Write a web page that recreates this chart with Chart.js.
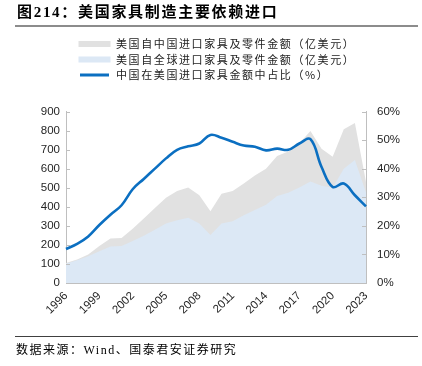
<!DOCTYPE html>
<html><head><meta charset="utf-8">
<script src="https://cdn.jsdelivr.net/npm/chart.js@4.4.1/dist/chart.umd.min.js"></script>
<style>
html,body{margin:0;padding:0;background:#fff;width:422px;height:366px;overflow:hidden;}
#wrap{position:relative;width:422px;height:366px;}
canvas{position:absolute;left:0;top:0;}
#title{position:absolute;left:17px;top:3px;font:bold 15px "Liberation Serif","Noto Sans CJK SC";line-height:18px;letter-spacing:1.7px;color:#000;white-space:nowrap;}
#tline{position:absolute;left:15px;top:25px;width:403px;height:2px;background:#8c8c8c;}
#bline{position:absolute;left:15px;top:336px;width:403px;height:1px;background:#404040;}
#src{position:absolute;left:16px;top:342px;font:12px "Liberation Serif","Noto Sans CJK SC";line-height:16px;letter-spacing:1.5px;color:#000;white-space:nowrap;}
</style></head><body>
<div id="wrap">
<canvas id="c" width="422" height="366"></canvas>
<div id="title">图214：美国家具制造主要依赖进口</div>
<div id="tline"></div>
<div id="bline"></div>
<div id="src">数据来源：Wind、国泰君安证券研究</div>
</div>
<script>
// ---- data ----
const years = ['1996','1997','1998','1999','2000','2001','2002','2003','2004','2005','2006','2007','2008','2009','2010','2011','2012','2013','2014','2015','2016','2017','2018','2019','2020','2021','2022','2023'];
const shownYears = ['1996','1999','2002','2005','2008','2011','2014','2017','2020','2023'];
// grey area (upper band)
const importsFromChina = [105,123,150,194,234,236,285,339,393,447,483,501,461,376,468,483,522,564,600,666,690,734,798,705,663,807,839,530];
// light blue area (lower band)
const importsFromWorld = [101,119,140,167,191,194,221,248,279,312,329,342,312,252,312,324,356,383,410,456,474,501,533,510,500,600,645,475];
// share line (%)
const chinaShare = [11.9,13.7,16.3,20.3,23.9,27.2,32.8,36.4,40.0,43.6,46.6,47.8,48.8,51.8,50.8,49.4,48.1,47.7,46.4,47.0,46.6,48.8,50.3,40.6,33.6,34.8,30.7,26.8];
const leftTicks = [0,100,200,300,400,500,600,700,800,900];
const rightTicks = [0,10,20,30,40,50,60];

const labelsText = ['美国自中国进口家具及零件金额（亿美元）','美国自全球进口家具及零件金额（亿美元）','中国在美国进口家具金额中占比（%）'];
const GREY = '#e1e1e1', LIGHTBLUE = '#dce8f5', BLUE = '#0b6fc1', AXIS = '#bfbfbf', TXT = '#262626';

const tweak = {
  id: 'tweak',
  afterLayout(chart) {
    const lg = chart.legend;
    if (!lg) return;
    const dy = lg.top - 34;
    lg.top -= dy; lg.bottom -= dy;
    lg.left += 74;
    if (!lg._wrapped) {
      const d = lg.draw;
      lg.draw = function () {
        const c = this.ctx; c.save(); c.letterSpacing = '1.6px';
        d.apply(this, arguments); c.restore();
      };
      lg._wrapped = true;
    }
  },
  afterDraw(chart) {
    const ctx = chart.ctx;
    ctx.save();
    ctx.strokeStyle = AXIS; ctx.lineWidth = 1;
    ['y', 'y1'].forEach(id => {
      const s = chart.scales[id];
      s.ticks.forEach((t, i) => {
        const yy = Math.round(s.getPixelForTick(i)) + 0.5;
        ctx.beginPath();
        if (id === 'y') { ctx.moveTo(s.right, yy); ctx.lineTo(s.right + 4, yy); }
        else { ctx.moveTo(s.left, yy); ctx.lineTo(s.left - 4, yy); }
        ctx.stroke();
      });
    });
    ctx.restore();
  }
};

new Chart(document.getElementById('c'), {
  type: 'line',
  data: {
    labels: years,
    datasets: [
      { label: labelsText[0], data: importsFromChina, yAxisID: 'y', fill: 'origin', backgroundColor: GREY, borderWidth: 0, pointRadius: 0, tension: 0, order: 3 },
      { label: labelsText[1], data: importsFromWorld, yAxisID: 'y', fill: 'origin', backgroundColor: LIGHTBLUE, borderWidth: 0, pointRadius: 0, tension: 0, order: 2 },
      { label: labelsText[2], data: chinaShare, yAxisID: 'y1', fill: false, borderColor: BLUE, backgroundColor: BLUE, borderWidth: 2.6, pointRadius: 0, tension: 0.4, order: 1 }
    ]
  },
  options: {
    responsive: false, animation: false, devicePixelRatio: 1,
    layout: { padding: { top: 55, left: 0, right: 0, bottom: 0 } },
    plugins: {
      tooltip: { enabled: false },
      legend: {
        position: 'top', align: 'start',
        labels: {
          boxWidth: 32, boxHeight: 6, padding: 4.5, color: '#222',
          font: { family: '"Noto Sans CJK SC"', size: 11 },
          generateLabels(chart) {
            return chart.data.datasets.map((ds, i) => ({
              text: ds.label,
              fillStyle: i === 2 ? BLUE : ds.backgroundColor,
              strokeStyle: i === 2 ? '#ffffff' : ds.backgroundColor,
              lineWidth: i === 2 ? 3 : 0,
              hidden: false, datasetIndex: i, fontColor: '#222'
            }));
          }
        }
      }
    },
    scales: {
      x: {
        type: 'category',
        grid: { display: false, drawTicks: false },
        border: { display: true, color: AXIS },
        ticks: {
          autoSkip: false, maxRotation: 45, minRotation: 45, padding: 6, color: TXT,
          font: { family: '"Liberation Sans", Arial', size: 11.5 },
          callback: (v, i) => shownYears.includes(years[i]) ? years[i] : ''
        },
        afterFit(s) { s.height = 83; }
      },
      y: {
        position: 'left', min: 0, max: 900,
        grid: { display: false, drawTicks: false },
        border: { display: true, color: AXIS },
        afterBuildTicks(s) { s.ticks = leftTicks.map(v => ({ value: v })); },
        ticks: { padding: 6, color: TXT, font: { family: '"Liberation Sans", Arial', size: 11.5 } },
        afterFit(s) { s.width = 66; }
      },
      y1: {
        position: 'right', min: 0, max: 60,
        grid: { display: false, drawTicks: false },
        border: { display: true, color: AXIS },
        afterBuildTicks(s) { s.ticks = rightTicks.map(v => ({ value: v })); },
        ticks: { padding: 11, color: TXT, font: { family: '"Liberation Sans", Arial', size: 11.5 }, callback: v => v + '%' },
        afterFit(s) { s.width = 56; }
      }
    }
  },
  plugins: [tweak]
});
</script>
</body></html>
